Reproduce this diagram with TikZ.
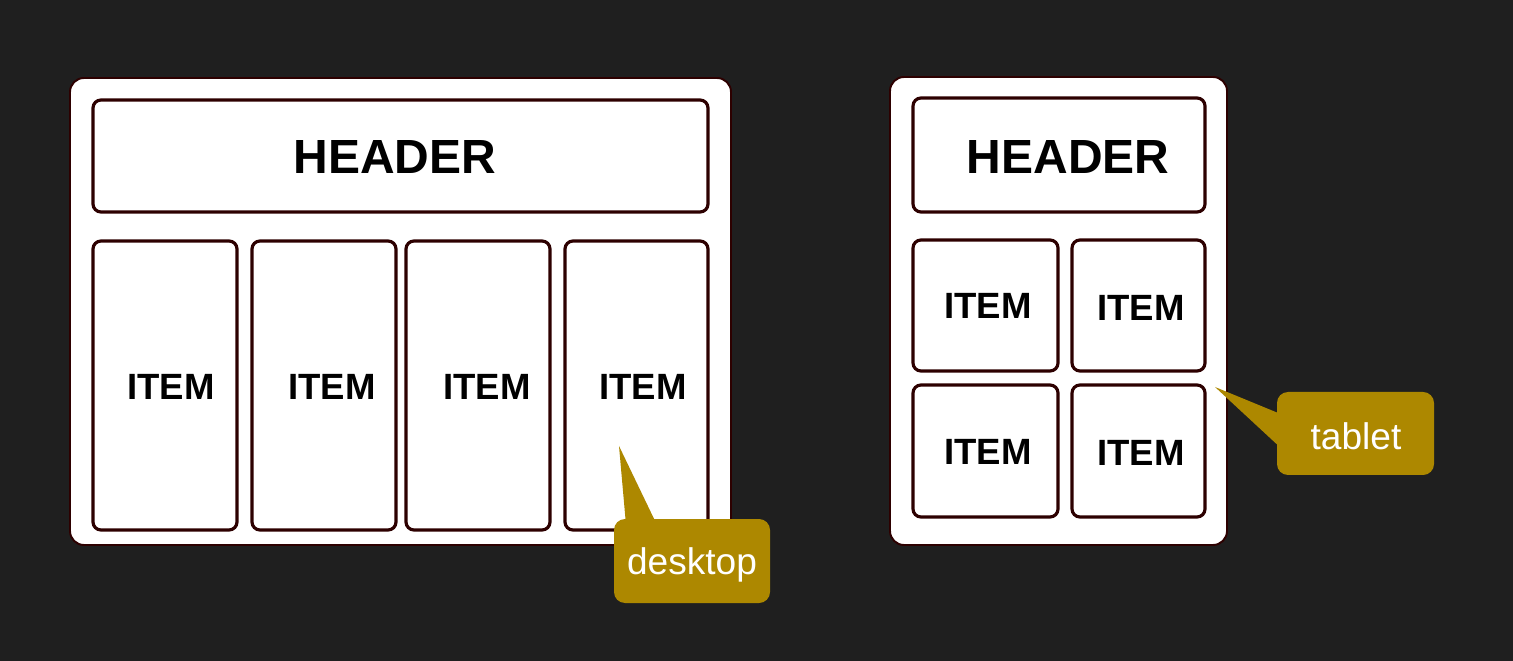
\documentclass[tikz,border=0pt]{standalone}
\usepackage{fontspec}
\setmainfont{Liberation Sans}
\usetikzlibrary{fit}
\definecolor{bgc}{RGB}{31,31,31}
\definecolor{edgec}{RGB}{45,0,0}
\definecolor{goldc}{RGB}{173,136,0}
\tikzset{
  frame/.style={draw=edgec, fill=white, line width=1.1pt, rounded corners=0.28cm, inner sep=0pt},
  boxc/.style={draw=edgec, fill=white, line width=1.8pt, rounded corners=0.16cm, inner sep=0pt},
  hdr/.style={font=\bfseries\fontsize{27.3}{30}\selectfont, text=black},
  itm/.style={font=\bfseries\fontsize{20.8}{24}\selectfont, text=black},
  bubble/.style={fill=goldc, rounded corners=0.22cm, inner sep=0pt},
  btxt/.style={font=\fontsize{21.1}{24}\selectfont, text=white},
}
\begin{document}
\begin{tikzpicture}[x=0.02cm, y=-0.02cm]
\fill[bgc] (0,0) rectangle (1513,661);
\useasboundingbox (0,0) rectangle (1513,661);
% desktop
\node[frame, fit={(70,78) (731,545)}] (dframe) {};
\node[boxc, fit={(93,100) (708,212)}] (dhead) {};
\node[hdr] at (395,157) {HEADER};
\node[boxc, fit={(93,241) (237,530)}] (d1) {};
\node[boxc, fit={(252,241) (396,530)}] (d2) {};
\node[boxc, fit={(406,241) (550,530)}] (d3) {};
\node[boxc, fit={(565,241) (708,530)}] (d4) {};
\node[itm] at (171,387) {ITEM};
\node[itm] at (332,387) {ITEM};
\node[itm] at (487,387) {ITEM};
\node[itm] at (643,387) {ITEM};
% tablet
\node[frame, fit={(890,77) (1227,545)}] (tframe) {};
\node[boxc, fit={(913,98) (1205,212)}] (thead) {};
\node[hdr] at (1068,157) {HEADER};
\node[boxc, fit={(913,240) (1058,371)}] (t1) {};
\node[boxc, fit={(1072,240) (1205,371)}] (t2) {};
\node[boxc, fit={(913,385) (1058,517)}] (t3) {};
\node[boxc, fit={(1072,385) (1205,517)}] (t4) {};
\node[itm] at (988,306) {ITEM};
\node[itm] at (1141,308) {ITEM};
\node[itm] at (988,452) {ITEM};
\node[itm] at (1141,453) {ITEM};
% desktop callout
\coordinate (dtip) at (619,446);
\fill[goldc] (dtip) -- (626,525) -- (657,525) -- cycle;
\node[bubble, fit={(614,519) (770,603)}] (dcall) {};
\node[btxt] at (692,565) {desktop};
% tablet callout
\coordinate (ttip) at (1215,387);
\fill[goldc] (ttip) -- (1283,415) -- (1283,450) -- cycle;
\node[bubble, fit={(1277,392) (1434,475)}] (tcall) {};
\node[btxt] at (1356,436) {tablet};
\end{tikzpicture}
\end{document}
